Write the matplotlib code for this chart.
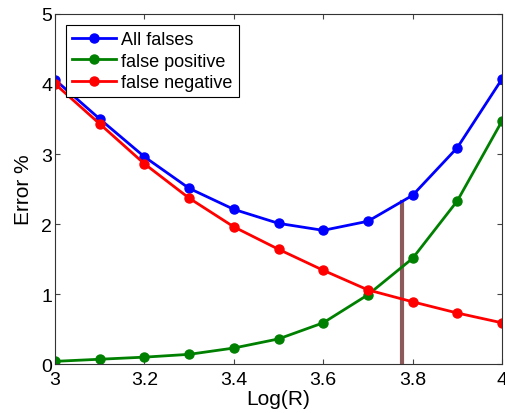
import matplotlib
matplotlib.use('Agg')
import matplotlib.pyplot as plt

plt.rcParams['font.family'] = ['Liberation Sans', 'DejaVu Sans']

# Data
log_r = [3.0, 3.1, 3.2, 3.3, 3.4, 3.5, 3.6, 3.7, 3.8, 3.9, 4.0]
all_falses = [4.06, 3.50, 2.96, 2.51, 2.21, 2.01, 1.91, 2.04, 2.41, 3.09, 4.07]
false_pos = [0.04, 0.07, 0.10, 0.14, 0.23, 0.36, 0.59, 0.99, 1.51, 2.33, 3.47]
false_neg = [4.00, 3.43, 2.86, 2.37, 1.96, 1.64, 1.34, 1.06, 0.89, 0.73, 0.59]
marker_x = 3.776
marker_top = 2.31

fig = plt.figure(figsize=(5.05, 4.14), dpi=100)
ax = fig.add_axes([0.109, 0.118, 0.885, 0.846])

ax.plot(log_r, all_falses, '-o', color='blue', lw=2, ms=6.5, label='All falses')
ax.plot(log_r, false_pos, '-o', color='green', lw=2, ms=6.5, label='false positive')
ax.plot(log_r, false_neg, '-o', color='red', lw=2, ms=6.5, label='false negative')
ax.plot([marker_x, marker_x], [0, marker_top], color='#8c5a5a', lw=3, zorder=1)

ax.set_xlim(3, 4)
ax.set_ylim(0, 5)
ax.set_xticks([3, 3.2, 3.4, 3.6, 3.8, 4])
ax.set_xticklabels(['3', '3.2', '3.4', '3.6', '3.8', '4'])
ax.set_yticks([0, 1, 2, 3, 4, 5])
ax.tick_params(direction='in', labelsize=14, top=True, right=True, color='#444444')
ax.tick_params(axis='x', pad=5)
ax.tick_params(axis='y', pad=2)
for s in ax.spines.values():
    s.set_color('#333333')
ax.set_xlabel('Log(R)', fontsize=15, labelpad=1)
ax.set_ylabel('Error %', fontsize=15, labelpad=6)

leg = ax.legend(loc='upper left', fontsize=13, fancybox=False, framealpha=1,
                edgecolor='black', borderaxespad=0.6, handlelength=2.4,
                labelspacing=0.25, borderpad=0.35, handletextpad=0.3)
leg.get_frame().set_linewidth(0.8)

fig.savefig('out.png', dpi=100)
